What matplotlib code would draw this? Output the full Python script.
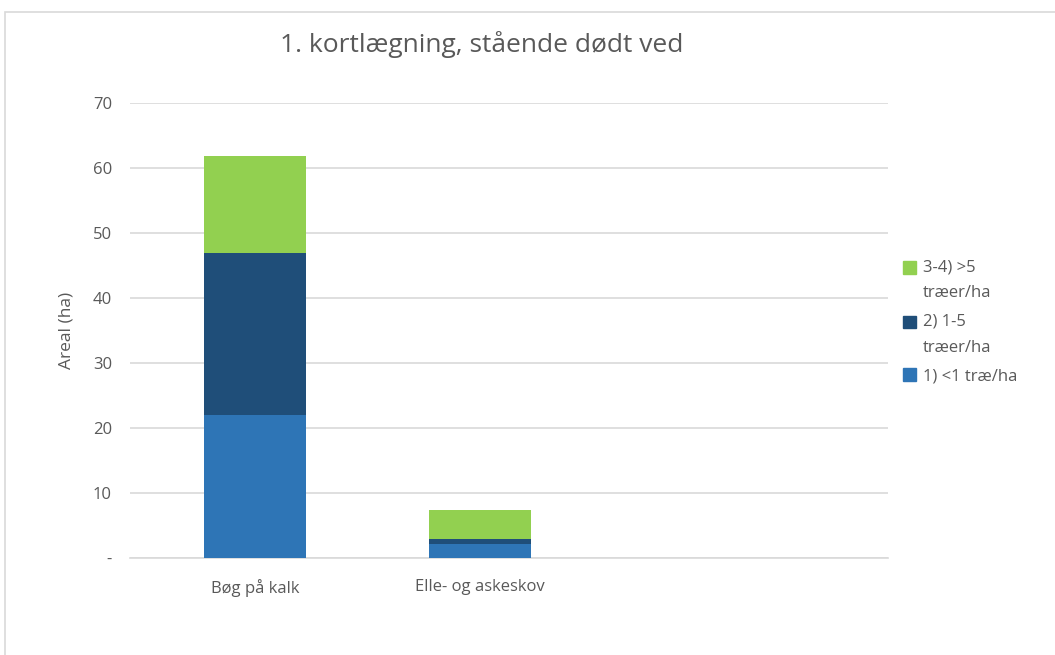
import matplotlib
matplotlib.use("Agg")
import matplotlib.pyplot as plt
from matplotlib.patches import Rectangle, Patch
from matplotlib.legend_handler import HandlerPatch
import numpy as np

categories = ["Bøg på kalk", "Elle- og askeskov"]
s1 = [22.0, 2.2]    # 1) <1 træ/ha
s2 = [25.0, 0.8]    # 2) 1-5 træer/ha
s3 = [14.8, 4.4]    # 3-4) >5 træer/ha
labels = ["1) <1 træ/ha", "2) 1-5\ntræer/ha", "3-4) >5\ntræer/ha"]
colors = ["#2E75B6", "#1F4E79", "#92D050"]
yticks = [0, 10, 20, 30, 40, 50, 60, 70]
yticklabels = ["-", "10", "20", "30", "40", "50", "60", "70"]

plt.rcParams['font.family'] = ['Open Sans', 'DejaVu Sans']
txt = "#595959"

fig = plt.figure(figsize=(10.55, 6.55), dpi=100)
fig.patches.append(Rectangle((5/1055, -0.1), 1.2, (655-12)/655 + 0.1, transform=fig.transFigure,
                             fill=False, edgecolor="#D9D9D9", linewidth=1.2))
ax = fig.add_axes([130/1055, 97/655, 758/1055, 455/655])

x = np.arange(len(categories))
w = 0.45
ax.bar(x, s1, w, color=colors[0], label=labels[0], zorder=3)
ax.bar(x, s2, w, bottom=s1, color=colors[1], label=labels[1], zorder=3)
bot3 = np.array(s1) + np.array(s2)
ax.bar(x, s3, w, bottom=bot3, color=colors[2], label=labels[2], zorder=3)

ax.set_ylim(0, 70)
ax.set_xlim(-(255-130)/225, (888-255)/225)
ax.set_yticks(yticks)
ax.set_yticklabels(yticklabels)
ax.set_xticks(x)
ax.set_xticklabels(categories)
ax.yaxis.grid(True, color="#D9D9D9", linewidth=1.2, zorder=0)
for s in ["top", "right", "left"]:
    ax.spines[s].set_visible(False)
ax.spines["bottom"].set_color("#D9D9D9")
ax.spines["bottom"].set_linewidth(1.2)
ax.tick_params(axis="both", length=0, colors=txt, labelsize=12)
ax.tick_params(axis="y", pad=13)
ax.tick_params(axis="x", pad=15)
ax.set_ylabel("Areal (ha)", color=txt, fontsize=12.5, labelpad=13)

fig.text(482/1055, 1 - 45/655, "1. kortlægning, stående dødt ved", ha="center", va="center",
         color=txt, fontsize=19)


def make_handler(offset):
    def pf(legend, orig_handle, xdescent, ydescent, width, height, fontsize):
        return Rectangle((-xdescent, -ydescent + offset), width, height)
    return HandlerPatch(patch_func=pf)


handles = [Patch(color=colors[2]), Patch(color=colors[1]), Patch(color=colors[0])]
hmap = {handles[0]: make_handler(9.4), handles[1]: make_handler(9.4), handles[2]: make_handler(0)}
leg = fig.legend(handles, [labels[2], labels[1], labels[0]], loc="upper left",
                 bbox_to_anchor=(888/1055, 1 - 244/655), frameon=False,
                 handlelength=0.8, handleheight=0.8, handletextpad=0.4, labelspacing=0.75,
                 prop={"size": 12}, handler_map=hmap)
for t in leg.get_texts():
    t.set_color(txt)
    t.set_linespacing(1.85)

fig.savefig("out.png", dpi=100)
